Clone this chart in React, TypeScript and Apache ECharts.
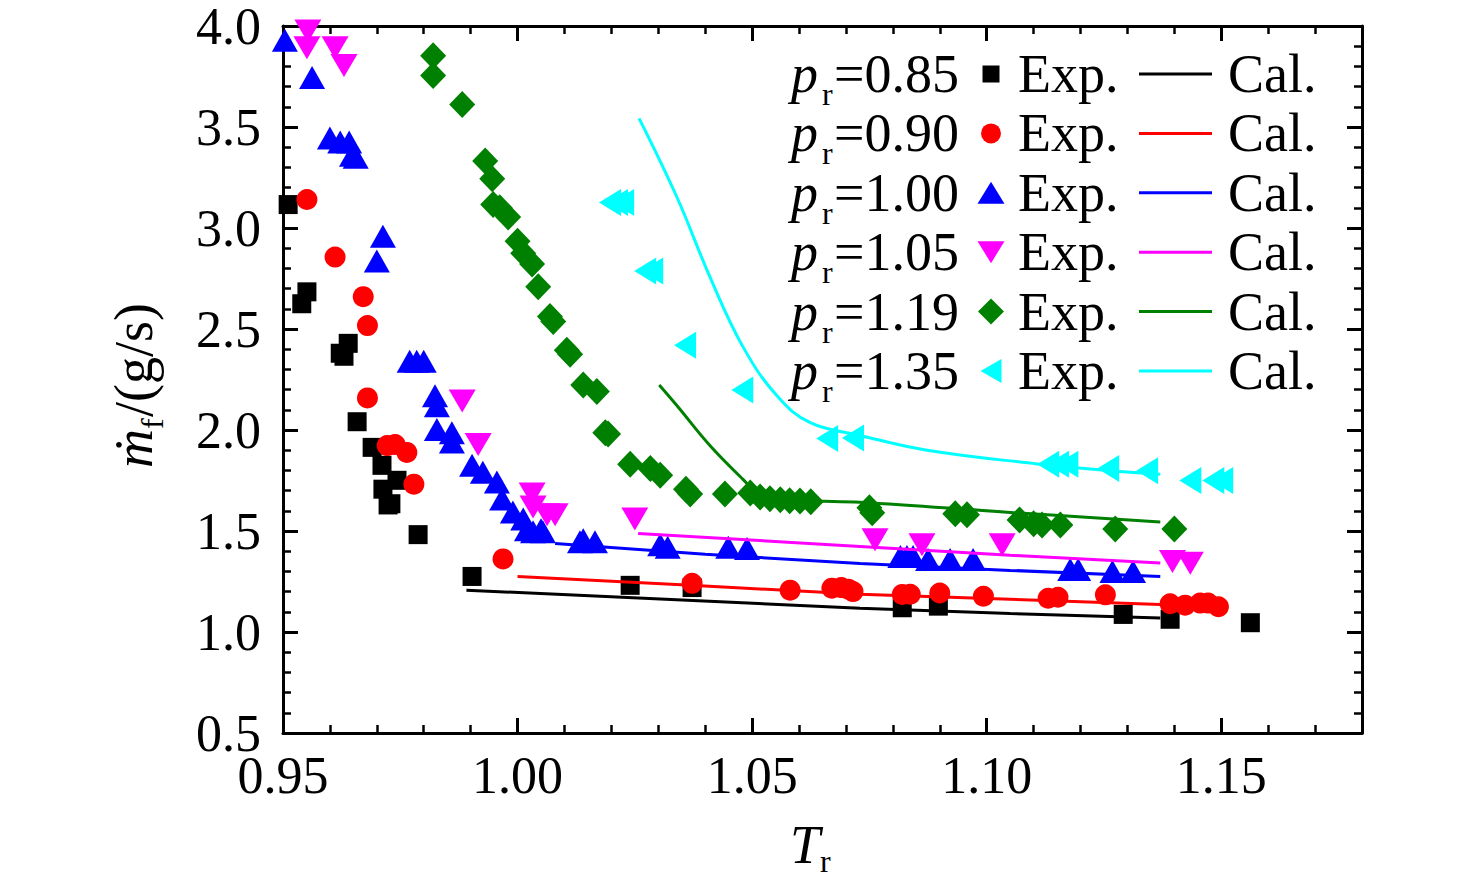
import { useEffect, useRef } from "react";
import * as echarts from "echarts";

const SERIF = '"Liberation Serif", "Times New Roman", "DejaVu Serif", serif';

// reduced pressure of each data set
const pressures = ["0.85", "0.90", "1.00", "1.05", "1.19", "1.35"];
const colors = ["#000000", "#ff0000", "#0000ff", "#ff00ff", "#008000", "#00ffff"];
const symbols = ["rect", "circle", "triangle", "triangle", "diamond", "triangle"];
const symbolRotates = [0, 0, 0, 180, 0, 90];
const symbolSizes = [
  [19, 19],
  [21, 21],
  [26, 23],
  [27, 23],
  [26, 27],
  [27, 22],
];
// legend markers, drawn in a 28x26 box (the two leading moves fix the box)
const legendIcons = [
  "path://M0,0M28,26M5.5,4.5h17v17h-17z",
  "path://M0,0M28,26M4,13a10,10 0 1,0 20,0a10,10 0 1,0 -20,0z",
  "path://M0,0M28,26M14,2L27.5,24L0.5,24z",
  "path://M0,0M28,26M0.5,2L27.5,2L14,24z",
  "path://M0,0M28,26M14,0L27,13L14,26L1,13z",
  "path://M0,0M28,26M24.5,1L24.5,25L3.5,13z",
];

// experimental points [Tr, mf]
const exp085 = [
  [0.9511, 3.116], [0.954, 2.625], [0.9551, 2.684], [0.9622, 2.38], [0.963, 2.365],
  [0.9639, 2.429], [0.9658, 2.041], [0.969, 1.914], [0.9711, 1.825], [0.9713, 1.707],
  [0.9724, 1.629], [0.973, 1.635], [0.9743, 1.751], [0.9788, 1.482], [0.9903, 1.275],
  [1.024, 1.231], [1.0372, 1.22], [1.082, 1.12], [1.0897, 1.128], [1.1291, 1.087],
  [1.1391, 1.063], [1.1562, 1.046],
];
const exp090 = [
  [0.9551, 3.141], [0.9611, 2.856], [0.9671, 2.66], [0.968, 2.517], [0.968, 2.159],
  [0.9722, 1.923], [0.9739, 1.928], [0.9764, 1.889], [0.9779, 1.732], [0.9969, 1.362],
  [1.0372, 1.241], [1.0581, 1.207], [1.067, 1.217], [1.069, 1.22], [1.0705, 1.212],
  [1.0715, 1.2], [1.082, 1.186], [1.0837, 1.187], [1.09, 1.193], [1.0993, 1.177],
  [1.1131, 1.167], [1.1152, 1.172], [1.1253, 1.184], [1.1391, 1.14], [1.1423, 1.133],
  [1.1455, 1.143], [1.1472, 1.143], [1.1494, 1.125],
];
const exp100 = [
  [0.9504, 3.93], [0.9562, 3.745], [0.96, 3.445], [0.9622, 3.426], [0.9641, 3.426],
  [0.9647, 3.36], [0.9655, 3.35], [0.9713, 2.959], [0.97, 2.837], [0.977, 2.34],
  [0.9785, 2.34], [0.98, 2.34], [0.9824, 2.169], [0.9828, 2.12], [0.9828, 2.002],
  [0.986, 1.987], [0.986, 1.94], [0.9903, 1.825], [0.9926, 1.791], [0.9956, 1.742],
  [0.9967, 1.658], [0.999, 1.594], [1.0012, 1.56], [1.002, 1.506], [1.0033, 1.496],
  [1.005, 1.506], [1.0054, 1.496], [1.014, 1.457], [1.0133, 1.447], [1.0165, 1.447],
  [1.0304, 1.432], [1.032, 1.42], [1.0449, 1.42], [1.0489, 1.413], [1.0816, 1.374],
  [1.083, 1.374], [1.0843, 1.374], [1.0875, 1.359], [1.0922, 1.359], [1.0971, 1.359],
  [1.1178, 1.31], [1.1195, 1.31], [1.1268, 1.3], [1.1312, 1.3],
];
const exp105 = [
  [0.9553, 3.975], [0.9551, 3.892], [0.9611, 3.892], [0.963, 3.804], [0.9882, 2.144],
  [0.9916, 1.928], [1.0031, 1.683], [1.0033, 1.619], [1.0063, 1.58], [1.008, 1.58],
  [1.025, 1.56], [1.0762, 1.457], [1.0862, 1.432], [1.1033, 1.432], [1.1396, 1.349],
  [1.1434, 1.34],
];
const exp119 = [
  [0.982, 3.853], [0.982, 3.755], [0.9882, 3.612], [0.9931, 3.332], [0.9946, 3.244],
  [0.9948, 3.116], [0.9962, 3.1], [0.998, 3.055], [1.0, 2.935], [1.0012, 2.875],
  [1.0031, 2.822], [1.0044, 2.709], [1.0069, 2.562], [1.0076, 2.537], [1.0105, 2.395],
  [1.0112, 2.375], [1.014, 2.223], [1.0169, 2.19], [1.0187, 1.987], [1.0193, 1.98],
  [1.024, 1.83], [1.0283, 1.81], [1.0304, 1.776], [1.0359, 1.707], [1.0368, 1.683],
  [1.0442, 1.683], [1.0496, 1.688], [1.0517, 1.668], [1.0538, 1.66], [1.056, 1.655],
  [1.058, 1.65], [1.0602, 1.648], [1.0625, 1.645], [1.075, 1.615], [1.0756, 1.59],
  [1.0933, 1.585], [1.0958, 1.58], [1.107, 1.555], [1.11, 1.536], [1.1118, 1.53],
  [1.1157, 1.53], [1.1274, 1.51], [1.14, 1.51],
];
const exp135 = [
  [1.0197, 3.126], [1.0212, 3.126], [1.0225, 3.126], [1.0272, 2.787], [1.0287, 2.787],
  [1.0357, 2.419], [1.0479, 2.198], [1.066, 1.958], [1.0715, 1.96], [1.1131, 1.83],
  [1.1152, 1.83], [1.1172, 1.83], [1.1259, 1.81], [1.1342, 1.798], [1.1434, 1.75],
  [1.1483, 1.75], [1.1502, 1.75],
];

// calculated curves [Tr, mf]
const cal085 = [[0.9891, 1.207], [1.0304, 1.163], [1.073, 1.118], [1.105, 1.091], [1.137, 1.069]];
const cal090 = [[1.0, 1.275], [1.037, 1.231], [1.073, 1.187], [1.105, 1.162], [1.137, 1.136]];
const cal100 = [[1.008, 1.438], [1.04, 1.385], [1.073, 1.339], [1.105, 1.305], [1.137, 1.275]];
const cal105 = [[1.0257, 1.488], [1.073, 1.423], [1.105, 1.38], [1.137, 1.341]];
const cal119 = [
  [1.0302, 2.223], [1.034, 2.12], [1.041, 1.923], [1.048, 1.757], [1.0517, 1.683],
  [1.0602, 1.653], [1.073, 1.642], [1.105, 1.592], [1.137, 1.545],
];
const cal135 = [
  [1.0259, 3.543], [1.034, 3.151], [1.041, 2.758], [1.048, 2.414], [1.0553, 2.169],
  [1.0624, 2.036], [1.073, 1.973], [1.0873, 1.9], [1.1108, 1.832], [1.1227, 1.806],
  [1.137, 1.781],
];

const expSets = [exp085, exp090, exp100, exp105, exp119, exp135];
const calSets = [cal085, cal090, cal100, cal105, cal119, cal135];
const smoothCurves = [false, false, false, false, true, true];

const xMin = 0.95;
const xMax = 1.18;
const xMajor = 0.05;
const xMinor = 0.01;
const yMin = 0.5;
const yMax = 4.0;
const yMajor = 0.5;

const FONT = 54;
const TICK_FONT = 52;

export default function App() {
  const chartRef = useRef<HTMLDivElement>(null);

  useEffect(() => {
    if (!chartRef.current) return;
    const chart = echarts.init(chartRef.current, undefined, { renderer: "svg" });

    const frame = { onZero: false, lineStyle: { color: "#000", width: 3 } };
    const majorTick = { inside: true, length: 15, lineStyle: { color: "#000", width: 3 } };
    const minorTick = { inside: true, length: 8, lineStyle: { color: "#000", width: 2.5 } };
    const tickText = { fontSize: TICK_FONT, fontFamily: SERIF, color: "#000", lineHeight: 40 };

    const xBase = { type: "value", min: xMin, max: xMax, splitLine: { show: false } };
    const yBase = { type: "value", min: yMin, max: yMax, interval: yMajor, splitLine: { show: false } };

    const expNames = pressures.map((p) => "Exp. " + p);
    const calNames = pressures.map((p) => "Cal. " + p);

    const rowTop = 46;
    const rowGap = 3.4;
    const rowStep = 56 + rowGap;
    const graphic: any[] = [];
    pressures.forEach((p, i) => {
      const cy = rowTop + 28 + i * rowStep;
      graphic.push(
        {
          type: "text",
          x: 791,
          y: cy,
          silent: true,
          style: { text: "p", fontSize: FONT, fontStyle: "italic", fontFamily: SERIF, fill: "#000", align: "left", verticalAlign: "middle" },
        },
        {
          type: "text",
          x: 822,
          y: cy + 20,
          silent: true,
          style: { text: "r", fontSize: 32, fontFamily: SERIF, fill: "#000", align: "left", verticalAlign: "middle" },
        },
        {
          type: "text",
          x: 834,
          y: cy,
          silent: true,
          style: { text: "=" + p, fontSize: FONT, fontFamily: SERIF, fill: "#000", align: "left", verticalAlign: "middle" },
        }
      );
    });

    // axis titles
    graphic.push(
      {
        type: "group",
        x: 134,
        y: 468,
        rotation: Math.PI / 2,
        silent: true,
        children: [
          {
            type: "text",
            x: 0,
            y: 0,
            style: { text: "ṁ", fontSize: FONT, fontStyle: "italic", fontFamily: SERIF, fill: "#000", align: "left", verticalAlign: "middle" },
          },
          {
            type: "text",
            x: 39,
            y: 18,
            style: { text: "f", fontSize: 32, fontFamily: SERIF, fill: "#000", align: "left", verticalAlign: "middle" },
          },
          {
            type: "text",
            x: 51,
            y: 0,
            style: { text: "/(g/s)", fontSize: FONT, fontFamily: SERIF, fill: "#000", align: "left", verticalAlign: "middle" },
          },
        ],
      },
      {
        type: "text",
        x: 790,
        y: 845,
        silent: true,
        style: { text: "T", fontSize: 54, fontStyle: "italic", fontFamily: SERIF, fill: "#000", align: "left", verticalAlign: "middle" },
      },
      {
        type: "text",
        x: 820,
        y: 861,
        silent: true,
        style: { text: "r", fontSize: 32, fontFamily: SERIF, fill: "#000", align: "left", verticalAlign: "middle", lineHeight: 30 },
      }
    );

    const option: any = {
      animation: false,
      backgroundColor: "#ffffff",
      grid: { left: 283, right: 114, top: 20, bottom: 146, containLabel: false },
      xAxis: [
        {
          ...xBase,
          position: "bottom",
          interval: xMajor,
          axisLine: frame,
          axisTick: majorTick,
          axisLabel: { ...tickText, margin: 22, showMaxLabel: false, formatter: (v: number) => v.toFixed(2) },
        },
        {
          ...xBase,
          position: "bottom",
          interval: xMinor,
          axisLine: { show: false },
          axisTick: minorTick,
          axisLabel: { show: false },
        },
        {
          ...xBase,
          position: "top",
          interval: xMajor,
          axisLine: frame,
          axisTick: majorTick,
          axisLabel: { show: false },
        },
        {
          ...xBase,
          position: "top",
          interval: xMinor,
          axisLine: { show: false },
          axisTick: minorTick,
          axisLabel: { show: false },
        },
      ],
      yAxis: [
        {
          ...yBase,
          position: "left",
          axisLine: frame,
          axisTick: majorTick,
          minorTick: { show: true, splitNumber: 5, length: 8, lineStyle: { color: "#000", width: 2.5 } },
          axisLabel: { ...tickText, margin: 22, formatter: (v: number) => v.toFixed(1) },
        },
        {
          ...yBase,
          position: "right",
          axisLine: frame,
          axisTick: majorTick,
          minorTick: { show: true, splitNumber: 5, length: 8, lineStyle: { color: "#000", width: 2.5 } },
          axisLabel: { show: false },
        },
      ],
      legend: [
        {
          orient: "vertical",
          left: 977,
          top: rowTop,
          padding: 0,
          itemGap: rowGap,
          itemWidth: 28,
          itemHeight: 26,
          selectedMode: false,
          data: expNames.map((name, i) => ({ name, icon: legendIcons[i] })),
          formatter: () => "Exp.",
          textStyle: { fontFamily: SERIF, fontSize: FONT, color: "#000", lineHeight: 56, padding: [0, 0, 0, 8] },
        },
        {
          orient: "vertical",
          left: 1139,
          top: rowTop,
          padding: 0,
          itemGap: rowGap,
          itemWidth: 73,
          itemHeight: 3,
          selectedMode: false,
          data: calNames.map((name) => ({ name, icon: "rect" })),
          formatter: () => "Cal.",
          textStyle: { fontFamily: SERIF, fontSize: FONT, color: "#000", lineHeight: 56, padding: [0, 0, 0, 11] },
        },
      ],
      graphic,
      series: [
        ...expSets.map((d, i) => ({
          type: "scatter",
          name: expNames[i],
          data: d,
          xAxisIndex: 0,
          yAxisIndex: 0,
          symbol: symbols[i],
          symbolSize: symbolSizes[i],
          symbolRotate: symbolRotates[i],
          itemStyle: { color: colors[i], opacity: 1 },
          z: 2,
        })),
        ...calSets.map((d, i) => ({
          type: "line",
          name: calNames[i],
          data: d,
          xAxisIndex: 0,
          yAxisIndex: 0,
          symbol: "none",
          showSymbol: false,
          smooth: smoothCurves[i] ? 0.4 : false,
          lineStyle: { color: colors[i], width: 3 },
          itemStyle: { color: colors[i] },
          z: 3,
        })),
      ],
    };

    chart.setOption(option);

    return () => {
      chart.dispose();
    };
  }, []);

  return (
    <div
      ref={chartRef}
      style={{ position: "fixed", left: 0, top: 0, width: "1476px", height: "879px", background: "#fff" }}
    />
  );
}
